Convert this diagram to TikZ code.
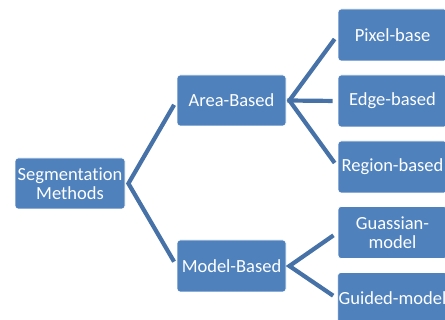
\documentclass[tikz,border=0pt]{standalone}
\usepackage{fontspec}
\setmainfont[Ligatures = NoCommon]{Carlito}
\definecolor{boxblue}{RGB}{79,129,189}
\definecolor{linkblue}{RGB}{70,114,168}

\begin{document}
\begin{tikzpicture}[x = 1pt, y = -1pt,
    box/.style = {draw = white, line width = 0.8pt, fill = boxblue, rounded corners = 3pt,
      minimum width = 109pt, minimum height = 51pt, inner sep = 1pt, align = center,
      text = white, font = \fontsize{18.5}{19.5}\selectfont},
    link/.style = {draw = linkblue, line width = 4.2pt, shorten < = 5pt, shorten > = 5pt}]
    \useasboundingbox (0, 0) rectangle (445, 320);
    \node[box, minimum width = 110pt] (segmentation) at (70, 183.5) {Segmentation \\ Methods};
    \node[box] (area based) at (231.5, 100.5) {Area-Based};
    \node[box, minimum height = 52pt] (model based) at (231.5, 266) {Model-Based};
    \node[box, minimum height = 52pt] (pixel base) at (392.5, 35) {Pixel-base};
    \node[box, minimum height = 52pt] (edge based) at (392.5, 101) {Edge-based};
    \node[box, minimum height = 52pt] (region based) at (392.5, 167) {Region-based};
    \node[box, minimum height = 52pt] (guassian model) at (392.5, 232.5) {Guassian- \\ model};
    \node[box, minimum height = 52pt] (guided model) at (392.5, 298.5) {Guided-model};
    \draw[link] (area based.west) -- ([xshift = 3pt]segmentation.east) -- (model based.west);
    \draw[link] (pixel base.west) -- ([xshift = 3pt]area based.east) -- (region based.west);
    \draw[link, shorten > = 0pt] (edge based.west) -- ([xshift = 1pt]area based.east);
    \draw[link] (guassian model.west) -- ([xshift = 3pt]model based.east) -- (guided model.west);
\end{tikzpicture}
\end{document}
